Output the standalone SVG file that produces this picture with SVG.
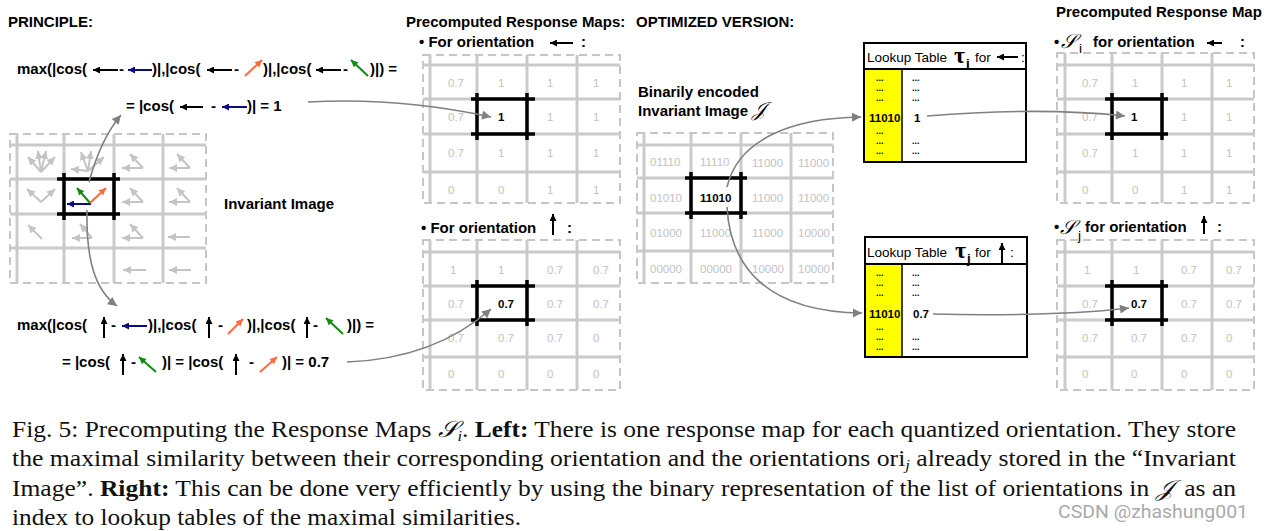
<svg xmlns="http://www.w3.org/2000/svg" width="1264" height="531" viewBox="0 0 1264 531">
<style>
.t{font-family:"Liberation Sans",Arial,sans-serif;font-weight:bold;font-size:15px;fill:#000}
.lt{font-family:"Liberation Sans",Arial,sans-serif;font-size:13.5px;fill:#000}
.v{font-family:"Liberation Sans",Arial,sans-serif;font-size:11.5px;fill:#c2c2c2}
.vb{font-family:"Liberation Sans",Arial,sans-serif;font-size:11.5px;font-weight:bold;fill:#000}
.bd{fill:none;stroke:#b4b4b4;stroke-width:1.5;stroke-dasharray:8 5}
.gl{stroke:#cacaca;stroke-width:3}
.hl{stroke:#000;stroke-width:3.5}
.con{fill:none;stroke:#808080;stroke-width:1.6}
.ga{stroke:#c4c4c4;stroke-width:2;fill:none;marker-end:url(#mgl)}
.ak{stroke:#000;stroke-width:2;marker-end:url(#mk)}
.ab{stroke:#0b0b82;stroke-width:2;marker-end:url(#mb)}
.ao{stroke:#ff6a3a;stroke-width:2;marker-end:url(#mo)}
.ag{stroke:#148a14;stroke-width:2;marker-end:url(#mg)}
.cap{font-family:"Liberation Serif","Times New Roman",serif;font-size:23px;fill:#111}
.dots{font-family:"Liberation Sans",Arial,sans-serif;font-size:9px;font-weight:bold;fill:#000}
.scr{font-family:"DejaVu Serif","Noto Sans","Liberation Serif",serif;font-style:italic}
</style>
<defs>
<marker id="mk" markerUnits="userSpaceOnUse" viewBox="0 0 10 10" refX="10" refY="5" markerWidth="8" markerHeight="7" orient="auto"><path d="M0,0 L10,5 L0,10 z" fill="#000"/></marker>
<marker id="mb" markerUnits="userSpaceOnUse" viewBox="0 0 10 10" refX="10" refY="5" markerWidth="8" markerHeight="7" orient="auto"><path d="M0,0 L10,5 L0,10 z" fill="#0b0b82"/></marker>
<marker id="mo" markerUnits="userSpaceOnUse" viewBox="0 0 10 10" refX="10" refY="5" markerWidth="8" markerHeight="7" orient="auto"><path d="M0,0 L10,5 L0,10 z" fill="#ff6a3a"/></marker>
<marker id="mg" markerUnits="userSpaceOnUse" viewBox="0 0 10 10" refX="10" refY="5" markerWidth="8" markerHeight="7" orient="auto"><path d="M0,0 L10,5 L0,10 z" fill="#148a14"/></marker>
<marker id="mgl" markerUnits="userSpaceOnUse" viewBox="0 0 10 10" refX="10" refY="5" markerWidth="8" markerHeight="8" orient="auto"><path d="M0,0 L10,5 L0,10 z" fill="#c4c4c4"/></marker>
<marker id="mc" markerUnits="userSpaceOnUse" viewBox="0 0 10 10" refX="10" refY="5" markerWidth="11" markerHeight="9" orient="auto"><path d="M0,0 L10,5 L0,10 z" fill="#808080"/></marker>
</defs>
<rect width="1264" height="531" fill="#fff"/>

<!-- PRINCIPLE -->
<g id="principle">
<text class="t" x="8" y="27">PRINCIPLE:</text>
<g id="formula1">
<text class="t" x="17" y="74">max(|cos(</text>
<line class="ak" x1="118" y1="70" x2="93" y2="70"/>
<text class="t" x="119" y="74">-</text>
<line class="ab" x1="152" y1="70" x2="128" y2="70"/>
<text class="t" x="152" y="74">)|,|cos(</text>
<line class="ak" x1="232" y1="70" x2="207" y2="70"/>
<text class="t" x="234" y="74">-</text>
<line class="ao" x1="245" y1="76" x2="262" y2="60"/>
<text class="t" x="263" y="74">)|,|cos(</text>
<line class="ak" x1="341" y1="70" x2="316" y2="70"/>
<text class="t" x="343" y="74">-</text>
<line class="ag" x1="368" y1="76" x2="351" y2="60"/>
<text class="t" x="370" y="74">)|) =</text>
</g>
<g id="formula2">
<text class="t" x="126" y="111">= |cos(</text>
<line class="ak" x1="203" y1="107" x2="180" y2="107"/>
<text class="t" x="211" y="111">-</text>
<line class="ab" x1="247" y1="107" x2="222" y2="107"/>
<text class="t" x="247" y="111">)| = 1</text>
</g>
<g id="formula3">
<text class="t" x="17" y="330">max(|cos(</text>
<line class="ak" x1="104" y1="338" x2="104" y2="317"/>
<text class="t" x="111" y="330">-</text>
<line class="ab" x1="147" y1="326" x2="122" y2="326"/>
<text class="t" x="148" y="330">)|,|cos(</text>
<line class="ak" x1="209" y1="338" x2="209" y2="317"/>
<text class="t" x="218" y="330">-</text>
<line class="ao" x1="228" y1="334" x2="243" y2="319"/>
<text class="t" x="247" y="330">)|,|cos(</text>
<line class="ak" x1="307" y1="338" x2="307" y2="317"/>
<text class="t" x="313" y="330">-</text>
<line class="ag" x1="343" y1="334" x2="326" y2="318"/>
<text class="t" x="347" y="330">)|) =</text>
</g>
<g id="formula4">
<text class="t" x="62" y="367">= |cos(</text>
<line class="ak" x1="123" y1="375" x2="123" y2="354"/>
<text class="t" x="131" y="367">-</text>
<line class="ag" x1="156" y1="372" x2="139" y2="357"/>
<text class="t" x="162" y="367">)| = |cos(</text>
<line class="ak" x1="236" y1="375" x2="236" y2="354"/>
<text class="t" x="249" y="367">-</text>
<line class="ao" x1="260" y1="372" x2="277" y2="357"/>
<text class="t" x="282" y="367">)| = 0.7</text>
</g>
</g>

<!-- Invariant image grid -->
<g id="invariant-image">
<rect class="bd" x="10" y="134" width="196" height="149"/>
<g class="gl">
<line x1="10" y1="145" x2="206" y2="145"/><line x1="10" y1="179" x2="206" y2="179"/><line x1="10" y1="214" x2="206" y2="214"/><line x1="10" y1="248" x2="206" y2="248"/>
<line x1="17" y1="134" x2="17" y2="283"/><line x1="64" y1="134" x2="64" y2="283"/><line x1="114" y1="134" x2="114" y2="283"/><line x1="163" y1="134" x2="163" y2="283"/>
</g>
<g>
<line class="ga" x1="41" y1="172" x2="28" y2="157"/><line class="ga" x1="41" y1="172" x2="38" y2="151"/><line class="ga" x1="41" y1="172" x2="46" y2="151"/><line class="ga" x1="41" y1="172" x2="55" y2="157"/>
<line class="ga" x1="88" y1="171" x2="71" y2="169"/><line class="ga" x1="88" y1="171" x2="81" y2="152"/><line class="ga" x1="88" y1="171" x2="91" y2="151"/><line class="ga" x1="88" y1="171" x2="104" y2="157"/>
<line class="ga" x1="143" y1="168" x2="122" y2="168"/><line class="ga" x1="143" y1="168" x2="130" y2="154"/>
<line class="ga" x1="190" y1="168" x2="169" y2="168"/><line class="ga" x1="190" y1="168" x2="177" y2="154"/>
<line class="ga" x1="41" y1="202" x2="27" y2="189"/><line class="ga" x1="41" y1="202" x2="55" y2="189"/>
<line class="ga" x1="143" y1="202" x2="122" y2="202"/><line class="ga" x1="143" y1="202" x2="130" y2="188"/>
<line class="ga" x1="190" y1="202" x2="169" y2="202"/><line class="ga" x1="190" y1="202" x2="177" y2="188"/>
<line class="ga" x1="42" y1="239" x2="28" y2="225"/>
<line class="ga" x1="92" y1="238" x2="72" y2="238"/><line class="ga" x1="92" y1="238" x2="80" y2="224"/>
<line class="ga" x1="143" y1="238" x2="122" y2="238"/><line class="ga" x1="143" y1="238" x2="130" y2="224"/>
<line class="ga" x1="190" y1="237" x2="168" y2="237"/>
<line class="ga" x1="146" y1="270" x2="123" y2="270"/>
<line class="ga" x1="191" y1="270" x2="169" y2="270"/>
</g>
<g class="hl">
<line x1="57" y1="179" x2="120" y2="179"/><line x1="57" y1="214" x2="120" y2="214"/>
<line x1="64" y1="173" x2="64" y2="220"/><line x1="114" y1="173" x2="114" y2="220"/>
</g>
<line class="ab" x1="91" y1="204" x2="67" y2="204"/>
<line class="ag" x1="90" y1="203" x2="77" y2="188"/>
<line class="ao" x1="90" y1="203" x2="106" y2="188"/>
<text class="t" x="224" y="209">Invariant Image</text>
</g>

<!-- Response map 1 -->
<g id="response-map-left">
<text class="t" x="406" y="27">Precomputed Response Maps:</text>
<text class="t" x="419" y="47">• For orientation</text>
<line class="ak" x1="573" y1="43" x2="550" y2="43"/>
<text class="t" x="581" y="47">:</text>
<rect class="bd" x="423" y="55" width="197" height="148"/>
<g class="gl">
<line x1="423" y1="65" x2="620" y2="65"/><line x1="423" y1="99" x2="620" y2="99"/><line x1="423" y1="134" x2="620" y2="134"/><line x1="423" y1="172" x2="620" y2="172"/>
<line x1="430" y1="55" x2="430" y2="203"/><line x1="477" y1="55" x2="477" y2="203"/><line x1="527" y1="55" x2="527" y2="203"/><line x1="577" y1="55" x2="577" y2="203"/>
</g>
<g class="hl">
<line x1="471" y1="99" x2="535" y2="99"/><line x1="471" y1="134" x2="535" y2="134"/>
<line x1="477" y1="93" x2="477" y2="140"/><line x1="527" y1="93" x2="527" y2="140"/>
</g>
<g class="v">
<text x="448" y="87">0.7</text><text x="498" y="87">1</text><text x="547" y="87">1</text><text x="593" y="87">1</text>
<text x="448" y="121">0.7</text><text x="547" y="121">1</text><text x="593" y="121">1</text>
<text x="448" y="157">0.7</text><text x="498" y="157">1</text><text x="547" y="157">1</text><text x="593" y="157">1</text>
<text x="448" y="194">0</text><text x="498" y="194">0</text><text x="547" y="194">1</text><text x="593" y="194">1</text>
</g>
<text class="vb" x="498" y="121">1</text>
</g>

<!-- Response map 2 -->
<g id="response-map-up">
<text class="t" x="421" y="233">• For orientation</text>
<line class="ak" x1="553" y1="235" x2="553" y2="214"/>
<text class="t" x="567" y="233">:</text>
<rect class="bd" x="423" y="240" width="197" height="150"/>
<g class="gl">
<line x1="423" y1="252" x2="620" y2="252"/><line x1="423" y1="286" x2="620" y2="286"/><line x1="423" y1="320" x2="620" y2="320"/><line x1="423" y1="357" x2="620" y2="357"/>
<line x1="430" y1="240" x2="430" y2="390"/><line x1="477" y1="240" x2="477" y2="390"/><line x1="527" y1="240" x2="527" y2="390"/><line x1="577" y1="240" x2="577" y2="390"/>
</g>
<g class="hl">
<line x1="471" y1="286" x2="535" y2="286"/><line x1="471" y1="320" x2="535" y2="320"/>
<line x1="477" y1="280" x2="477" y2="326"/><line x1="527" y1="280" x2="527" y2="326"/>
</g>
<g class="v">
<text x="450" y="274">1</text><text x="498" y="274">1</text><text x="547" y="274">0.7</text><text x="593" y="274">0.7</text>
<text x="448" y="308">0.7</text><text x="547" y="308">0.7</text><text x="593" y="308">0.7</text>
<text x="448" y="342">0.7</text><text x="498" y="342">0.7</text><text x="547" y="342">0.7</text><text x="593" y="342">0</text>
<text x="448" y="378">0</text><text x="498" y="378">0</text><text x="547" y="378">0</text><text x="593" y="378">0</text>
</g>
<text class="vb" x="498" y="308">0.7</text>
</g>

<!-- Binary encoded invariant image -->
<g id="encoded-image">
<text class="t" x="636" y="27">OPTIMIZED VERSION:</text>
<text class="t" x="638" y="97">Binarily encoded</text>
<text class="t" x="638" y="116">Invariant Image <tspan class="scr" font-size="20" font-weight="normal">𝒥</tspan></text>
<rect class="bd" x="637" y="133" width="196" height="150"/>
<g class="gl">
<line x1="637" y1="145" x2="833" y2="145"/><line x1="637" y1="178" x2="833" y2="178"/><line x1="637" y1="213" x2="833" y2="213"/><line x1="637" y1="251" x2="833" y2="251"/>
<line x1="644" y1="133" x2="644" y2="283"/><line x1="691" y1="133" x2="691" y2="283"/><line x1="741" y1="133" x2="741" y2="283"/><line x1="791" y1="133" x2="791" y2="283"/>
</g>
<g class="hl">
<line x1="685" y1="178" x2="747" y2="178"/><line x1="685" y1="213" x2="747" y2="213"/>
<line x1="691" y1="172" x2="691" y2="219"/><line x1="741" y1="172" x2="741" y2="219"/>
</g>
<g class="v">
<text x="650" y="166">01110</text><text x="700" y="166">11110</text><text x="752" y="167">11000</text><text x="798" y="167">11000</text>
<text x="650" y="202">01010</text><text x="752" y="202">11000</text><text x="798" y="202">11000</text>
<text x="650" y="237">01000</text><text x="700" y="237">11000</text><text x="752" y="237">11000</text><text x="798" y="237">10000</text>
<text x="650" y="273">00000</text><text x="700" y="273">00000</text><text x="752" y="273">10000</text><text x="798" y="273">10000</text>
</g>
<text class="vb" x="700" y="202">11010</text>
</g>

<!-- Lookup table i -->
<g id="lookup-table-i">
<rect x="864" y="43" width="162" height="119" fill="#fff" stroke="#000" stroke-width="2"/>
<rect x="865" y="69" width="37" height="92" fill="#ffff00"/>
<line x1="864" y1="69" x2="1026" y2="69" stroke="#000" stroke-width="2"/>
<line x1="902" y1="69" x2="902" y2="162" stroke="#000" stroke-width="1.5"/>
<text class="lt" x="867" y="62">Lookup Table</text>
<text x="954" y="63" font-family="Liberation Serif,serif" font-weight="bold" font-size="24">τ</text>
<text class="lt" x="966" y="68" font-weight="bold" font-size="13">i</text>
<text class="lt" x="975" y="62">for</text>
<line class="ak" x1="1018" y1="57" x2="997" y2="57"/>
<text class="lt" x="1021" y="62">:</text>
<g class="dots">
<text x="876" y="81">...</text><text x="876" y="91">...</text><text x="876" y="101">...</text>
<text x="876" y="134">...</text><text x="876" y="144">...</text><text x="876" y="154">...</text>
<text x="912" y="81">...</text><text x="912" y="91">...</text><text x="912" y="101">...</text>
<text x="912" y="144">...</text><text x="912" y="154">...</text>
</g>
<text class="vb" x="869" y="122">11010</text>
<text class="vb" x="914" y="122">1</text>
</g>

<!-- Lookup table j -->
<g id="lookup-table-j">
<rect x="865" y="237" width="162" height="120" fill="#fff" stroke="#000" stroke-width="2"/>
<rect x="866" y="264" width="36" height="92" fill="#ffff00"/>
<line x1="865" y1="264" x2="1027" y2="264" stroke="#000" stroke-width="2"/>
<line x1="902" y1="264" x2="902" y2="357" stroke="#000" stroke-width="1.5"/>
<text class="lt" x="867" y="257">Lookup Table</text>
<text x="955" y="258" font-family="Liberation Serif,serif" font-weight="bold" font-size="24">τ</text>
<text class="lt" x="967" y="263" font-weight="bold" font-size="13">j</text>
<text class="lt" x="975" y="257">for</text>
<line class="ak" x1="1002" y1="263" x2="1002" y2="243"/>
<text class="lt" x="1010" y="257">:</text>
<g class="dots">
<text x="876" y="276">...</text><text x="876" y="286">...</text><text x="876" y="296">...</text>
<text x="876" y="330">...</text><text x="876" y="340">...</text><text x="876" y="350">...</text>
<text x="912" y="276">...</text><text x="912" y="286">...</text><text x="912" y="296">...</text>
<text x="912" y="340">...</text><text x="912" y="350">...</text>
</g>
<text class="vb" x="869" y="318">11010</text>
<text class="vb" x="913" y="318">0.7</text>
</g>

<!-- Response map S_i -->
<g id="response-map-si">
<text class="t" x="1056" y="17">Precomputed Response Map</text>
<text class="t" x="1054" y="47">•</text>
<text class="scr" x="1061" y="48" font-size="20">𝒮</text>
<text class="lt" x="1079" y="53" font-size="12">i</text>
<text class="t" x="1093" y="47">for orientation</text>
<line class="ak" x1="1222" y1="43" x2="1207" y2="43"/>
<text class="t" x="1240" y="47">:</text>
<rect class="bd" x="1057" y="53" width="197" height="150"/>
<g class="gl">
<line x1="1057" y1="65" x2="1254" y2="65"/><line x1="1057" y1="99" x2="1254" y2="99"/><line x1="1057" y1="134" x2="1254" y2="134"/><line x1="1057" y1="172" x2="1254" y2="172"/>
<line x1="1065" y1="53" x2="1065" y2="203"/><line x1="1112" y1="53" x2="1112" y2="203"/><line x1="1162" y1="53" x2="1162" y2="203"/><line x1="1212" y1="53" x2="1212" y2="203"/>
</g>
<g class="hl">
<line x1="1105" y1="99" x2="1168" y2="99"/><line x1="1105" y1="134" x2="1168" y2="134"/>
<line x1="1112" y1="93" x2="1112" y2="140"/><line x1="1162" y1="93" x2="1162" y2="140"/>
</g>
<g class="v">
<text x="1082" y="87">0.7</text><text x="1132" y="87">1</text><text x="1181" y="87">1</text><text x="1226" y="87">1</text>
<text x="1082" y="121">0.7</text><text x="1181" y="121">1</text><text x="1226" y="121">1</text>
<text x="1082" y="157">0.7</text><text x="1132" y="157">1</text><text x="1181" y="157">1</text><text x="1226" y="157">1</text>
<text x="1082" y="194">0</text><text x="1132" y="194">0</text><text x="1181" y="194">1</text><text x="1226" y="194">1</text>
</g>
<text class="vb" x="1131" y="121">1</text>
</g>

<!-- Response map S_j -->
<g id="response-map-sj">
<text class="t" x="1054" y="232">•</text>
<text class="scr" x="1060" y="234" font-size="20">𝒮</text>
<text class="lt" x="1078" y="240" font-size="11">j</text>
<text class="t" x="1085" y="232">for orientation</text>
<line class="ak" x1="1204" y1="234" x2="1204" y2="216"/>
<text class="t" x="1217" y="232">:</text>
<rect class="bd" x="1057" y="240" width="197" height="150"/>
<g class="gl">
<line x1="1057" y1="252" x2="1254" y2="252"/><line x1="1057" y1="286" x2="1254" y2="286"/><line x1="1057" y1="320" x2="1254" y2="320"/><line x1="1057" y1="357" x2="1254" y2="357"/>
<line x1="1065" y1="240" x2="1065" y2="390"/><line x1="1112" y1="240" x2="1112" y2="390"/><line x1="1162" y1="240" x2="1162" y2="390"/><line x1="1212" y1="240" x2="1212" y2="390"/>
</g>
<g class="hl">
<line x1="1105" y1="286" x2="1168" y2="286"/><line x1="1105" y1="320" x2="1168" y2="320"/>
<line x1="1112" y1="280" x2="1112" y2="326"/><line x1="1162" y1="280" x2="1162" y2="326"/>
</g>
<g class="v">
<text x="1084" y="274">1</text><text x="1133" y="274">1</text><text x="1181" y="274">0.7</text><text x="1226" y="274">0.7</text>
<text x="1082" y="308">0.7</text><text x="1181" y="308">0.7</text><text x="1226" y="308">0.7</text>
<text x="1082" y="342">0.7</text><text x="1131" y="342">0.7</text><text x="1181" y="342">0.7</text><text x="1226" y="342">0</text>
<text x="1082" y="378">0</text><text x="1131" y="378">0</text><text x="1181" y="378">0</text><text x="1226" y="378">0</text>
</g>
<text class="vb" x="1131" y="308">0.7</text>
</g>

<!-- Connectors -->
<g id="connectors" class="con">
<path d="M 308 102 C 380 98, 440 106, 491 117" marker-end="url(#mc)"/>
<path d="M 89 182 C 95 160, 104 135, 121 115" marker-end="url(#mc)"/>
<path d="M 87 210 C 86 260, 95 290, 117 306" marker-end="url(#mc)"/>
<path d="M 347 362 C 400 360, 450 345, 491 309" marker-end="url(#mc)"/>
<path d="M 727 187 C 738 140, 790 118, 861 117" marker-end="url(#mc)"/>
<path d="M 727 207 C 730 265, 765 312, 862 313" marker-end="url(#mc)"/>
<path d="M 927 116 C 1000 110, 1070 110, 1125 116" marker-end="url(#mc)"/>
<path d="M 933 314 C 1000 316, 1080 314, 1129 308" marker-end="url(#mc)"/>
</g>

<!-- Caption -->
<g id="caption">
<text class="cap" x="12" y="437" textLength="1224" lengthAdjust="spacingAndGlyphs">Fig. 5: Precomputing the Response Maps <tspan class="scr">𝒮</tspan><tspan font-style="italic" font-size="15" dy="4">i</tspan><tspan dy="-4">. </tspan><tspan font-weight="bold">Left:</tspan> There is one response map for each quantized orientation. They store</text>
<text class="cap" x="12" y="466" textLength="1224" lengthAdjust="spacingAndGlyphs">the maximal similarity between their corresponding orientation and the orientations ori<tspan font-style="italic" font-size="15" dy="4">j</tspan><tspan dy="-4"> already stored in the “Invariant</tspan></text>
<text class="cap" x="12" y="496" textLength="1224" lengthAdjust="spacingAndGlyphs">Image”. <tspan font-weight="bold">Right:</tspan> This can be done very efficiently by using the binary representation of the list of orientations in <tspan class="scr">𝒥</tspan><tspan dx="4"> as an</tspan></text>
<text class="cap" x="12" y="525" textLength="509" lengthAdjust="spacingAndGlyphs">index to lookup tables of the maximal similarities.</text>
<text x="1058" y="518" font-family="Roboto,'Liberation Sans',sans-serif" font-size="18" fill="#aaaaaa" textLength="190" lengthAdjust="spacingAndGlyphs">CSDN @zhashung001</text>
</g>
</svg>
